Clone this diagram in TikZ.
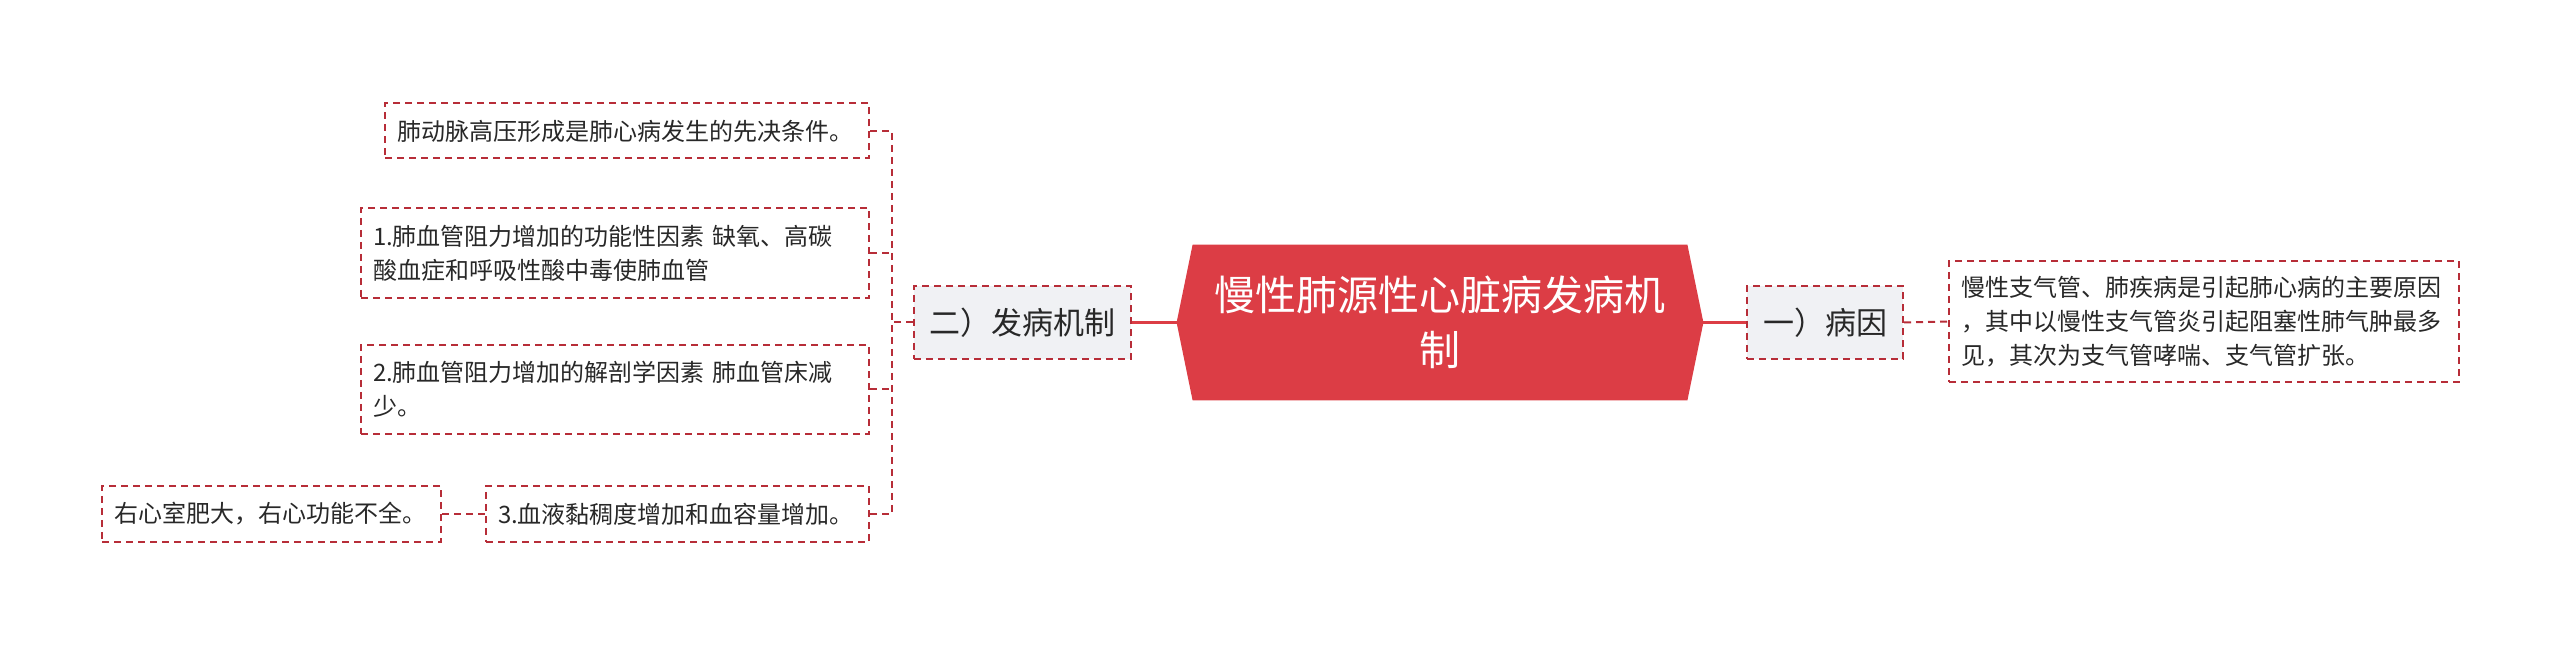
\documentclass[tikz,border=0pt]{standalone}
\usepackage{fontspec}
\setmainfont{Noto Sans CJK SC}
\usetikzlibrary{backgrounds}

\definecolor{mapred}{RGB}{220,61,69}
\definecolor{linered}{RGB}{183,45,56}
\definecolor{topicgray}{RGB}{240,241,244}
\definecolor{txtgray}{RGB}{40,40,40}

\tikzset{
	root/.style={minimum width=263pt, minimum height=77.5pt, inner sep=0pt, align=center, text=white, font=\fontsize{20.5}{27.5}\selectfont},
	topic/.style={draw=linered, line width=1pt, dash pattern=on 3.5pt off 2.5pt, fill=topicgray, text=txtgray, minimum height=36.5pt, inner sep=0pt, font=\fontsize{15.5}{18}\selectfont},
	leaf/.style={draw=linered, line width=1pt, dash pattern=on 3.5pt off 2.5pt, text=txtgray, align=left, inner xsep=6pt, inner ysep=0pt, font=\fontsize{12}{17}\selectfont},
	link/.style={draw=linered, line width=1pt, dash pattern=on 3.5pt off 2.5pt},
	mainlink/.style={draw=mapred, line width=1.4pt},
}

\begin{document}
\begin{tikzpicture}[x=0.5pt, y=-0.5pt]
	
		\useasboundingbox (0,0) rectangle (2560,646);
		
		% central topic
		\node[root] (root) at (1440,322.5) {慢性肺源性心脏病发病机\\制};
		\begin{pgfonlayer}{background}
			\fill[mapred] (root.west) -- ([xshift=8pt]root.north west) -- ([xshift=-8pt]root.north east)
			-- (root.east) -- ([xshift=-8pt]root.south east) -- ([xshift=8pt]root.south west) -- cycle;
		\end{pgfonlayer}
		
		% right branch
		\node[topic, minimum width=78pt] (cause) at (1825,322.5) {一）病因};
		\node[leaf, minimum height=60.5pt, text width=243pt, anchor=west] (causeleaf) at (1948,321.5)
			{慢性支气管、肺疾病是引起肺心病的主要原因\\，其中以慢性支气管炎引起阻塞性肺气肿最多\\见，其次为支气管哮喘、支气管扩张。};
		
		% left branch
		\node[topic, minimum width=108.5pt] (mech) at (1022.5,322.5) {二）发病机制};
		\coordinate (spine) at (892,322.5);
		
		% leaves
		\node[leaf, anchor=east, minimum height=27.5pt, text width=230pt] (L1) at (870,131) {肺动脉高压形成是肺心病发生的先决条件。};
		\node[leaf, anchor=east, minimum height=45pt, text width=242pt] (L2) at (870,253) {1.肺血管阻力增加的功能性因素 缺氧、高碳\\酸血症和呼吸性酸中毒使肺血管};
		\node[leaf, anchor=east, minimum height=44.5pt, text width=242pt] (L3) at (870,389.5) {2.肺血管阻力增加的解剖学因素 肺血管床减\\少。};
		\node[leaf, anchor=east, minimum height=28pt, text width=179.5pt] (L4) at (870,514) {3.血液黏稠度增加和血容量增加。};
		\node[leaf, anchor=east, minimum height=28pt, text width=157.5pt] (L5) at (442,514) {右心室肥大，右心功能不全。};
		
		% connectors
		\draw[mainlink] (root.west) -- (mech.east);
		\draw[mainlink] (root.east) -- (cause.west);
		\draw[link] (cause.east) -- (causeleaf.west);
		\draw[link] (mech.west) -- (spine);
		\draw[link] (L1.east) -| (spine |- L4.east) -- (L4.east);
		\draw[link] (L2.east) -- (L2.east -| spine);
		\draw[link] (L3.east) -- (L3.east -| spine);
		\draw[link] (L5.east) -- (L4.west);
	
	\end{tikzpicture}
\end{document}
